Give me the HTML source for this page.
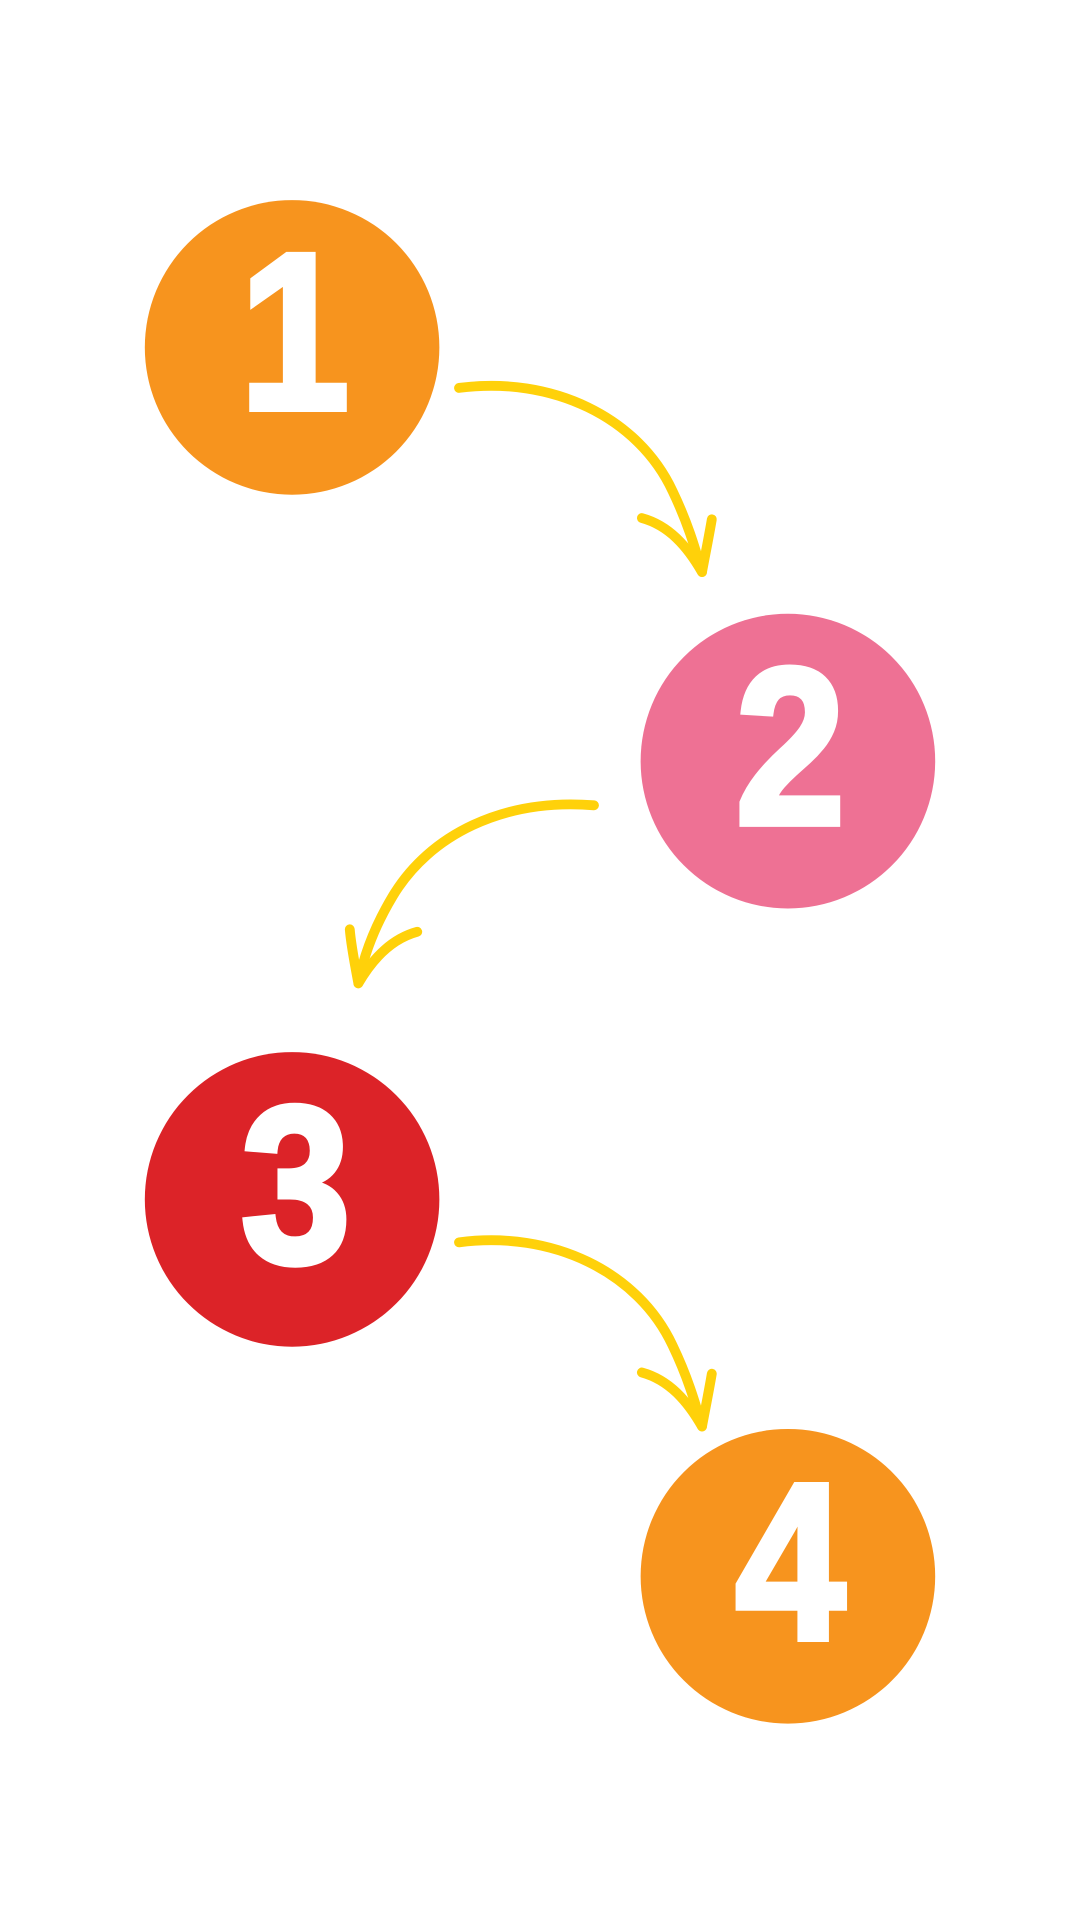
<!DOCTYPE html>
<html><head><style>
html,body{margin:0;padding:0;background:#fff;width:1080px;height:1920px;overflow:hidden}
svg{display:block}
</style></head><body>
<svg width="1080" height="1920" viewBox="0 0 880 1564" preserveAspectRatio="none" xmlns="http://www.w3.org/2000/svg">
<g font-family="Liberation Sans, sans-serif" font-weight="bold" font-size="140" fill="#fff" stroke="#fff" stroke-width="4" text-anchor="middle">
<circle cx="238" cy="283" r="120" fill="#F7941E" stroke="none"/>
<text x="240" y="333" transform="translate(240 333) scale(1.15 1.3) translate(-240 -333)">1</text>
<circle cx="642" cy="620" r="120" fill="#EE7194" stroke="none"/>
<text x="644" y="671" transform="translate(644 671) scale(1.15 1.3) translate(-644 -671)">2</text>
<circle cx="238" cy="977" r="120" fill="#DC2328" stroke="none"/>
<text x="241" y="1028" transform="translate(241 1028) scale(1.15 1.3) translate(-241 -1028)">3</text>
<circle cx="642" cy="1284" r="120" fill="#F7941E" stroke="none"/>
<text x="644" y="1335" transform="translate(644 1335) scale(1.15 1.3) translate(-644 -1335)">4</text>
</g>
<g fill="none" stroke="#FFD10A" stroke-width="8" stroke-linecap="round" stroke-linejoin="round">
<path d="M374 316 C450 306 520 340 548 400 C560 425 566 445 572 466"/>
<path d="M523 422 C545 428 560 445 572 466 C575 450 578 435 580 423"/>
<path d="M484 656 C410 650 350 680 320 730 C305 755 296 780 292 801"/>
<path d="M340 759 C318 765 303 782 292 801 C289 785 286 770 285 757"/>
<path d="M374 1012 C450 1002 520 1036 548 1096 C560 1121 566 1141 572 1162"/>
<path d="M523 1118 C545 1124 560 1141 572 1162 C575 1146 578 1131 580 1119"/>
</g>
</svg>
</body></html>
